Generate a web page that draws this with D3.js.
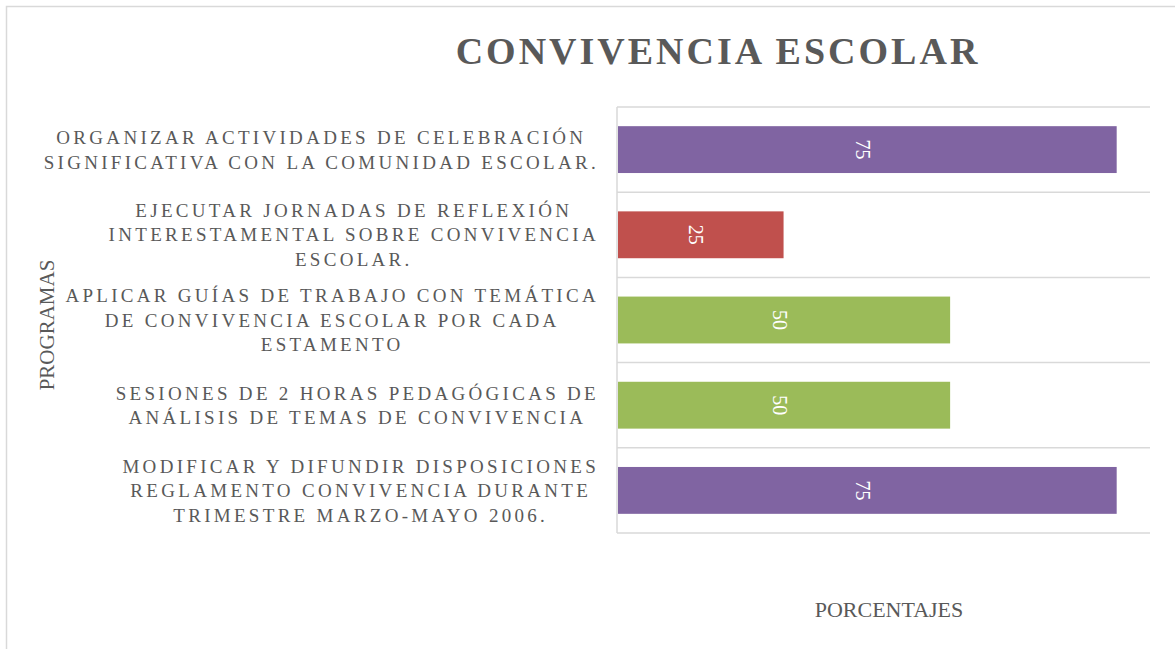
<!DOCTYPE html>
<html>
<head>
<meta charset="utf-8">
<script src="https://cdn.jsdelivr.net/npm/d3@7"></script>
<style>
  html, body { margin: 0; padding: 0; background: white; }
  svg { display: block; }
</style>
</head>
<body>
<script>
// chart data, top bar first
const programs = [
  ["ORGANIZAR ACTIVIDADES DE CELEBRACIÓN", "SIGNIFICATIVA CON LA COMUNIDAD ESCOLAR."],
  ["EJECUTAR JORNADAS DE REFLEXIÓN", "INTERESTAMENTAL SOBRE CONVIVENCIA", "ESCOLAR."],
  ["APLICAR GUÍAS DE TRABAJO CON TEMÁTICA", "DE CONVIVENCIA ESCOLAR POR CADA", "ESTAMENTO"],
  ["SESIONES DE 2 HORAS PEDAGÓGICAS DE", "ANÁLISIS DE TEMAS DE CONVIVENCIA"],
  ["MODIFICAR Y DIFUNDIR DISPOSICIONES", "REGLAMENTO CONVIVENCIA DURANTE", "TRIMESTRE MARZO-MAYO 2006."]
]
const percentages = [75, 25, 50, 50, 75]
const barColors = ["#8064A2", "#C0504D", "#9BBB59", "#9BBB59", "#8064A2"]
const xDomain = [0, 80]

const chartTitle = "CONVIVENCIA ESCOLAR"
const xTitle = "PORCENTAJES"
const yTitle = "PROGRAMAS"

// sizes
const width = 1175,
  height = 649,
  plotLeft = 617,
  plotRight = 1150,
  plotTop = 107,
  plotBottom = 533,
  gray = "#595959",
  gridGray = "#d9d9d9",
  font = "'Liberation Serif', 'DejaVu Serif', serif"

const svg = d3.select("body")
  .append("svg")
  .attr("width", width)
  .attr("height", height)

// outer chart border (runs past the window on right and bottom)
svg.append("rect")
  .attr("x", 6.5)
  .attr("y", 6.5)
  .attr("width", width + 20)
  .attr("height", height + 20)
  .attr("fill", "white")
  .attr("stroke", gridGray)
  .attr("stroke-width", 1.5)

// scales
const xSc = d3.scaleLinear()
  .domain(xDomain)
  .range([plotLeft, plotRight])

const keys = programs.map((d, i) => i)
const ySc = d3.scaleBand()
  .domain(keys)
  .range([plotTop, plotBottom])
  .paddingInner(0.45)
  .paddingOuter(0.225)

// horizontal gridlines at the category boundaries
const step = ySc.step()
const boundaries = d3.range(keys.length + 1).map(i => plotTop + i * step)
svg.append("g")
  .selectAll("line")
  .data(boundaries)
  .join("line")
  .attr("x1", plotLeft)
  .attr("x2", plotRight)
  .attr("y1", d => d)
  .attr("y2", d => d)
  .attr("stroke", gridGray)
  .attr("stroke-width", 1.5)

// category axis line
svg.append("line")
  .attr("x1", plotLeft)
  .attr("x2", plotLeft)
  .attr("y1", plotTop)
  .attr("y2", plotBottom)
  .attr("stroke", gridGray)
  .attr("stroke-width", 1.5)

// bars
svg.append("g")
  .selectAll("rect")
  .data(percentages)
  .join("rect")
  .attr("x", xSc(0) + 1)
  .attr("y", (d, i) => ySc(i))
  .attr("width", d => xSc(d) - xSc(0) - 1)
  .attr("height", ySc.bandwidth())
  .attr("fill", (d, i) => barColors[i])

// value labels, rotated
svg.append("g")
  .selectAll("text")
  .data(percentages)
  .join("text")
  .attr("transform", (d, i) =>
    `translate(${(xSc(0) + xSc(d)) / 2 - 4},${ySc(i) + ySc.bandwidth() / 2}) rotate(90)`)
  .attr("text-anchor", "middle")
  .attr("dy", "0.35em")
  .attr("fill", "white")
  .style("font-family", font)
  .style("font-size", "20px")
  .text(d => d)

// category labels: lines centred inside a right aligned block
const labelRight = 599,
  lineHeight = 24.5
const labels = svg.append("g")
programs.forEach((lines, i) => {
  const g = labels.append("g")
  const cy = ySc(i) + ySc.bandwidth() / 2
  const texts = g.selectAll("text")
    .data(lines)
    .join("text")
    .attr("y", (d, j) => cy + (j - (lines.length - 1) / 2) * lineHeight)
    .attr("dy", "0.35em")
    .attr("text-anchor", "middle")
    .attr("fill", gray)
    .style("font-family", font)
    .style("font-size", "19px")
    .style("letter-spacing", "3.3px")
    .text(d => d)
  let maxW = 0
  texts.each(function () {
    maxW = Math.max(maxW, this.getComputedTextLength())
  })
  texts.attr("x", labelRight - maxW / 2)
})

// title
svg.append("text")
  .attr("x", 718)
  .attr("y", 64)
  .attr("text-anchor", "middle")
  .attr("fill", gray)
  .style("font-family", font)
  .style("font-size", "38px")
  .style("font-weight", "bold")
  .style("letter-spacing", "3px")
  .text(chartTitle)

// axis titles
svg.append("text")
  .attr("x", 889)
  .attr("y", 617)
  .attr("text-anchor", "middle")
  .attr("fill", gray)
  .style("font-family", font)
  .style("font-size", "22px")
  .text(xTitle)

svg.append("text")
  .attr("transform", `translate(54,${(plotTop + plotBottom) / 2 + 5}) rotate(-90)`)
  .attr("text-anchor", "middle")
  .attr("fill", gray)
  .style("font-family", font)
  .style("font-size", "21px")
  .text(yTitle)
</script>
</body>
</html>
